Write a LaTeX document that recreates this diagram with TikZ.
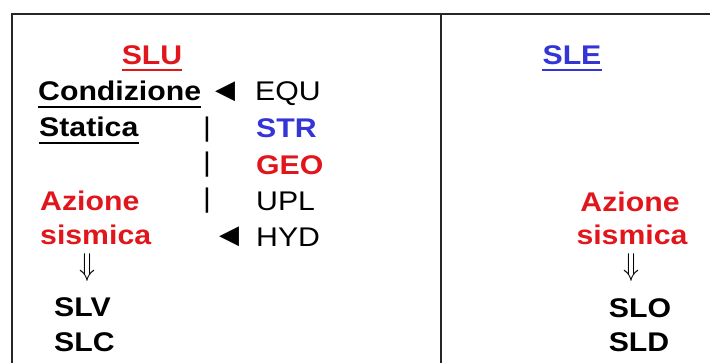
\documentclass[tikz,border=0pt]{standalone}
\usepackage{fontspec}
\setmainfont{Liberation Sans}
\newfontfamily\wide[FakeStretch=1.12]{Liberation Sans}
\newfontfamily\symb{DejaVu Sans}
\definecolor{slred}{RGB}{225,22,28}
\definecolor{slblue}{RGB}{52,52,215}
\tikzset{
  txt/.style={inner sep=0pt, font=\wide\fontsize{27}{32}\selectfont},
  bt/.style={txt, font=\wide\bfseries\fontsize{27}{32}\selectfont},
  lt/.style={anchor=base west},
  ct/.style={anchor=base},
  uline/.style={line width=2pt},
  frame/.style={line width=1.3pt, draw=black!85},
  tri/.style={inner sep=0pt, font=\symb\fontsize{26}{30}\selectfont},
  dnarrow/.style={inner sep=0pt},
}
\newcommand{\bigdn}{\resizebox*{16pt}{28pt}{$\Downarrow$}}
\begin{document}
\begin{tikzpicture}[x=1pt,y=-1pt]
\useasboundingbox (0,0) rectangle (710,363);
\fill[white] (0,0) rectangle (710,363);
% frame
\coordinate (tl) at (12,14);
\coordinate (tr) at (710,14);
\coordinate (bl) at (12,363);
\coordinate (tm) at (441,14);
\coordinate (bm) at (441,363);
\draw[frame] (bl) -- (tl) -- (tr);
\draw[frame] (tm) -- (bm);
% left column
\node[bt, ct, text=slred] (slu) at (152,65) {SLU};
\draw[uline, slred] ([yshift=-5.5pt]slu.base west) -- ([yshift=-5.5pt]slu.base east);
\node[bt, lt] (cond) at (38,101) {Condizione};
\draw[uline] ([yshift=-6pt]cond.base west) -- ([yshift=-6pt]cond.base east);
\node[bt, lt] (stat) at (39,137) {Statica};
\draw[uline] ([yshift=-6pt]stat.base west) -- ([yshift=-6pt]stat.base east);
\node[tri] (t1) at (225,92) {◀};
\node[txt, lt] (equ) at (255,101) {EQU};
\node[bt, lt, text=slblue] (str) at (256,138) {STR};
\node[bt, lt, text=slred] (geo) at (256,174.5) {GEO};
\node[txt, lt] (upl) at (256,211) {UPL};
\node[txt, lt] (hyd) at (256,247) {HYD};
\node[tri] (t2) at (229,237) {◀};
\node[txt, ct] (b1) at (207,137) {|};
\node[txt, ct] (b2) at (207,172) {|};
\node[txt, ct] (b3) at (207,208) {|};
\node[bt, lt, text=slred] (az1) at (40,211) {Azione};
\node[bt, lt, text=slred] (si1) at (40,245) {sismica};
\node[dnarrow] (d1) at (88,267.5) {\bigdn};
\node[bt, lt] (slv) at (54,317) {SLV};
\node[bt, lt] (slc) at (54,352) {SLC};
% right column
\node[bt, ct, text=slblue] (sle) at (572,65) {SLE};
\draw[uline, slblue] ([yshift=-5.5pt]sle.base west) -- ([yshift=-5.5pt]sle.base east);
\node[bt, ct, text=slred] (az2) at (630,212) {Azione};
\node[bt, ct, text=slred] (si2) at (632,245) {sismica};
\node[dnarrow] (d2) at (631,267.5) {\bigdn};
\node[bt, ct] (slo) at (640,318) {SLO};
\node[bt, ct] (sld) at (639,352) {SLD};
\end{tikzpicture}
\end{document}
